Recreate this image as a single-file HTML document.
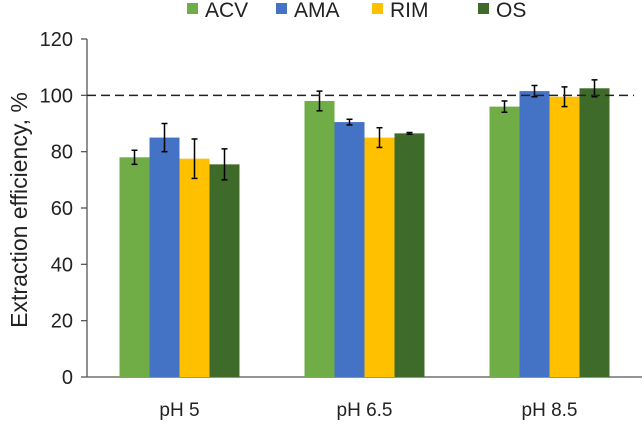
<!DOCTYPE html>
<html><head><meta charset="utf-8"><style>
body{margin:0;background:#fff;}
svg text{font-family:"Liberation Sans",sans-serif;fill:#222;}
</style></head><body>
<svg id="c" width="644" height="421"></svg>
<script>
const categories=["pH 5","pH 6.5","pH 8.5"];
const seriesNames=["ACV","AMA","RIM","OS"];
const colors=["#70ad47","#4472c4","#ffc000","#3f6b2a"];
const acv=[78,98,96];
const ama=[85,90.5,101.5];
const rim=[77.5,85,99.5];
const os=[75.5,86.5,102.5];
const acvErr=[2.5,3.5,2];
const amaErr=[5,1,2];
const rimErr=[7,3.5,3.5];
const osErr=[5.5,0.3,3];
const yTicks=[0,20,40,60,80,100,120];
const refLine=100;
const ns="http://www.w3.org/2000/svg";
const svg=document.getElementById('c');
const x0=87,gw=185,y0=377,y1=39,bw=30;
const y=v=>y0-(v/120)*(y0-y1);
const gx=i=>x0+gw*i+gw/2;
function mk(t,a,p){const e=document.createElementNS(ns,t);for(const k in a)e.setAttribute(k,a[k]);(p||svg).appendChild(e);return e;}
let ax=mk('line',{x1:x0,y1:y1,x2:x0,y2:y0,stroke:'#555','stroke-width':1.3});


let bx=mk('line',{x1:x0,y1:y0,x2:642,y2:y0,stroke:'#555','stroke-width':1.3});


yTicks.forEach(t=>{
 const tk=mk('line',{x1:x0-6,y1:y(t),x2:x0,y2:y(t),stroke:'#555','stroke-width':1.3});
 
 
 const tl=mk('text',{x:x0-14,y:y(t)+7,'text-anchor':'end','font-size':20});
 tl.textContent=t;
 
 
});
const yt=mk('text',{x:0,y:0,transform:'translate(27,210) rotate(-90)','text-anchor':'middle','font-size':23});
yt.textContent='Extraction efficiency, %';


const data=[acv,ama,rim,os],errs=[acvErr,amaErr,rimErr,osErr];
categories.forEach((c,i)=>{
 const cl=mk('text',{x:gx(i),y:416,'text-anchor':'middle','font-size':19});
 cl.textContent=c;
 
 
 data.forEach((s,j)=>{
  const bxp=gx(i)-2*bw+j*bw;
  const r=mk('rect',{x:bxp,y:y(s[i]),width:bw,height:y0-y(s[i]),fill:colors[j]});
  
  
  const cx=bxp+bw/2,e=errs[j][i];
  const eg=mk('g',{stroke:'#000','stroke-width':1.5});
  
  
  mk('line',{x1:cx,x2:cx,y1:y(s[i]+e),y2:y(s[i]-e)},eg);
  mk('line',{x1:cx-3,x2:cx+3,y1:y(s[i]+e),y2:y(s[i]+e)},eg);
  mk('line',{x1:cx-3,x2:cx+3,y1:y(s[i]-e),y2:y(s[i]-e)},eg);
 });
});
const dl=mk('line',{x1:x0,x2:634,y1:y(refLine),y2:y(refLine),stroke:'#222','stroke-width':1.5,'stroke-dasharray':'9,5'});


const lx=[187,276,372,478];
seriesNames.forEach((n,j)=>{
 const g=mk('g',{});
 
 
 mk('rect',{x:lx[j],y:3,width:11,height:11,fill:colors[j]},g);
 const t=mk('text',{x:lx[j]+18,y:17,'font-size':21},g);
 t.textContent=n;
});
</script>
</body></html>
